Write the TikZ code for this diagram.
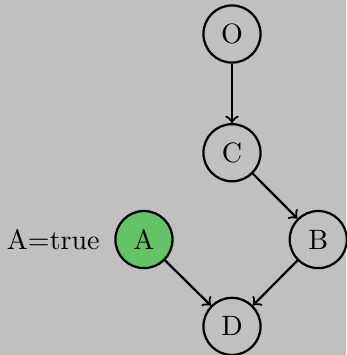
\documentclass[tikz,border=0pt]{standalone}
\usepackage{tikz}
\usetikzlibrary{positioning}
\usepackage{xcolor}
\definecolor{bggray}{RGB}{192,192,192}
\definecolor{truegreen}{RGB}{102,194,102}

\begin{document}
\begin{tikzpicture}[>=to,thick,on grid,var/.style={circle,draw,minimum size=20.4pt}]
\path[use as bounding box,fill=bggray] (-2.912,0.427) rectangle (1.431,-4.029);
\node[var] (O) at (0,0) {O};
\node[var] (C) [below=1.49cm of O] {C};
\node[var] (B) [below right=1.09cm and 1.083cm of C] {B};
\node[var,fill=truegreen] (A) [left=2.188cm of B] {A};
\node[var] (D) [below left=1.09cm and 1.083cm of B] {D};
\node (atrue) [on grid=false,left=1.5pt of A] {A=true};
\draw[->] (O) -- (C);
\draw[->] (C) -- (B);
\draw[->] (A) -- (D);
\draw[->] (B) -- (D);
\end{tikzpicture}
\end{document}
